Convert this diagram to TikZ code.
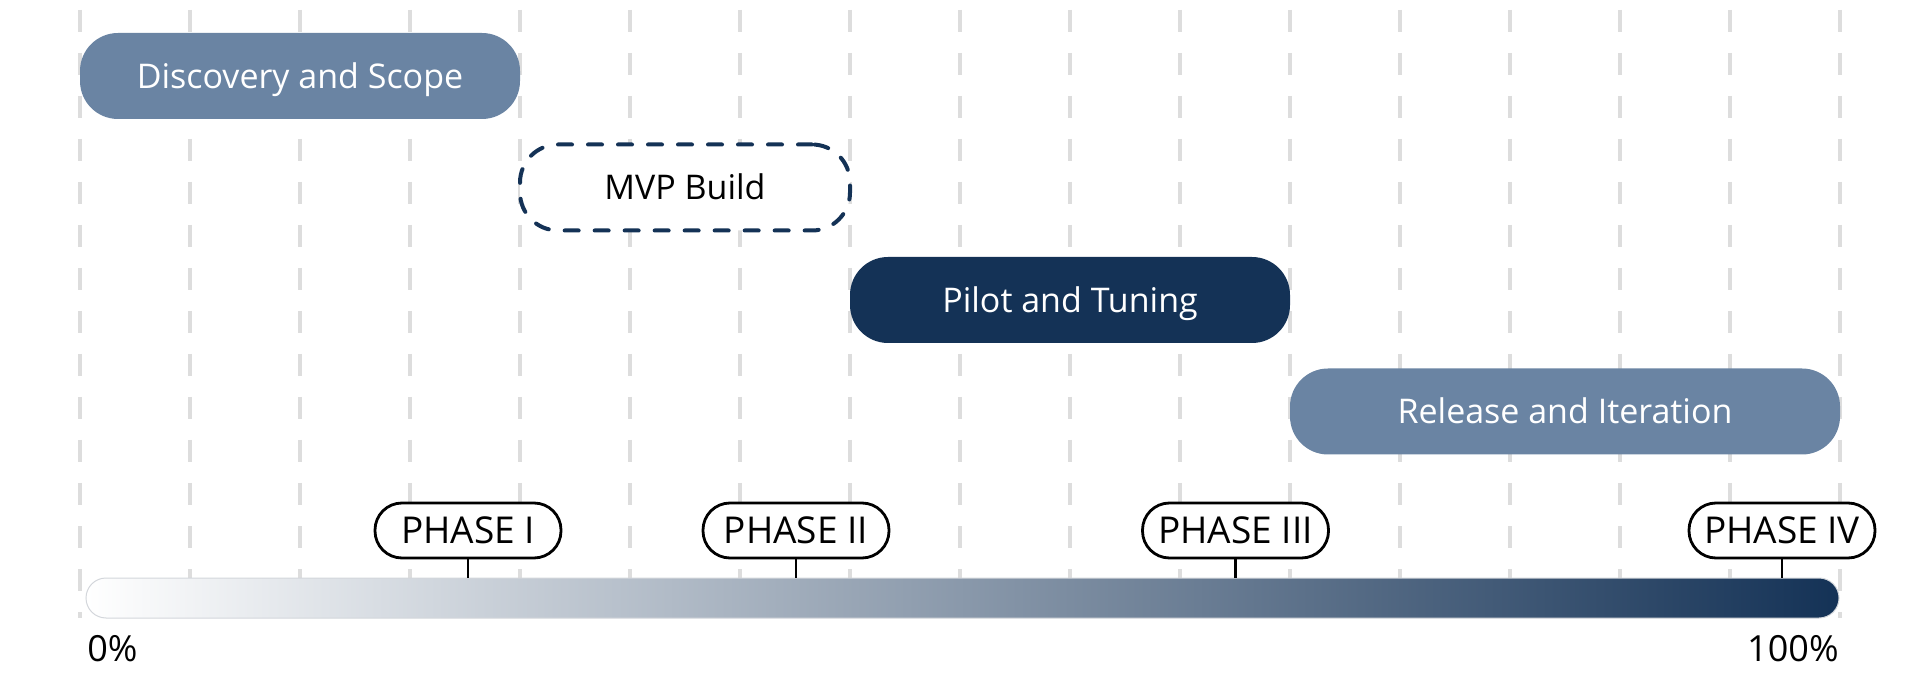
\documentclass[tikz,border=0pt]{standalone}
\usepackage{fontspec}
\setmainfont{Open Sans}
\usepackage{tikz}
\usepackage{xcolor}
\usetikzlibrary{positioning}
\definecolor{PlanSlate}{HTML}{6A84A3}
\definecolor{PlanNavy}{HTML}{143256}
\definecolor{PlanGrid}{HTML}{DDDDDD}
\definecolor{PlanEdge}{HTML}{D3D6DB}
\tikzset{
  pgrid/.style={draw=PlanGrid, line width=1.75pt, dash pattern=on 11pt off 10.5pt},
  pbar/.style={rounded corners=19pt, minimum height=43pt, inner sep=0pt, text height=12.1pt, text depth=0pt, font=\fontsize{17}{20}\selectfont, text=white},
  pslate/.style={pbar, fill=PlanSlate},
  pnavy/.style={pbar, fill=PlanNavy},
  pdash/.style={pbar, fill=white, text=black, draw=PlanNavy, line width=2pt, dash pattern=on 7pt off 8pt, line cap=round},
  phase/.style={draw=black, fill=white, line width=1.4pt, rounded corners=13.5pt, minimum width=93pt, minimum height=27.5pt, inner sep=0pt, text height=13.4pt, text depth=0pt, font=\fontsize{18.5}{20}\selectfont},
  ptick/.style={draw=black, line width=1.3pt},
  ptrack/.style={draw=PlanEdge, line width=0.5pt, left color=white, right color=PlanNavy, rounded corners=10pt, minimum width=876.5pt, minimum height=20pt, inner sep=0pt},
  pscale/.style={font=\fontsize{18}{22}\selectfont, inner sep=0pt}
}
\begin{document}
\begin{tikzpicture}[x=0.5pt,y=-0.5pt]
  \useasboundingbox (0,0) rectangle (1920,694);
  % column guides
  \foreach \i in {0,...,16}
    \draw[pgrid] (80+110*\i,10) -- (80+110*\i,618);
  % work packages
  \node[pslate, minimum width=220pt] (disc) at (300,76) {Discovery and Scope};
  \node[pdash, minimum width=165pt] (mvp) at (685,187.5) {MVP Build};
  \node[pnavy, minimum width=220pt] (pilot) at (1070,300) {Pilot and Tuning};
  \node[pslate, minimum width=275pt] (release) at (1565,411.5) {Release and Iteration};
  % progress track
  \node[ptrack] (track) at (962.5,598) {};
  \node[pscale, anchor=base west] (zero) at (87,661) {0\%};
  \node[pscale, anchor=base east] (full) at (1839,661) {100\%};
  % milestones
  \node[phase] (p1) at (468,530.5) {PHASE I};
  \node[phase] (p2) at (796,530.5) {PHASE II};
  \node[phase] (p3) at (1235.5,530.5) {PHASE III};
  \node[phase] (p4) at (1782,530.5) {PHASE IV};
  \foreach \p in {p1,p2,p3,p4}
    \draw[ptick] (\p.south) -- (\p.south |- track.north);
\end{tikzpicture}
\end{document}
